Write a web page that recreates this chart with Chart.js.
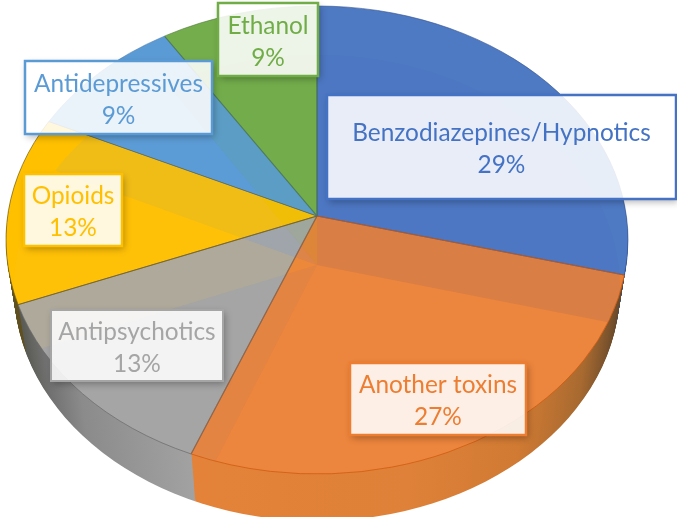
<!DOCTYPE html>
<html><head><meta charset="utf-8">
<style>html,body{margin:0;padding:0;background:#fff;overflow:hidden}canvas{display:block}</style>
<script src="https://cdn.jsdelivr.net/npm/chart.js@4"></script>
</head><body><canvas id="c" width="677" height="517"></canvas>
<script>
const categories = ["Benzodiazepines/Hypnotics","Another toxins","Antipsychotics","Opioids","Antidepressives","Ethanol"];
const values = [29,27,13,13,9,9];
const labelColors = ["#4472C4","#ED7D31","#A5A5A5","#FFC000","#5B9BD5","#70AD47"];
const topColors = ["#4E79C3","#EA8138","#A5A5A5","#FFC000","#5B9BD5","#74AD4C"];
const underColors = ["#4069BC","#FFB070","#A8A8A8","#FFD040","#6AA8E0","#70AD47"];
const edgeColors = ["rgba(50,80,140,.6)","rgba(205,90,15,.75)","rgba(105,105,105,.7)","rgba(120,95,20,.7)","rgba(60,110,160,.5)","rgba(80,120,60,.6)"];
const wallStops = [
  [[0,"#2F4D85"],[1,"#2F4D85"]],
  [[0,"#E8833A"],[0.65,"#DF8138"],[0.83,"#D07A33"],[0.93,"#A86A30"],[1,"#60452A"]],
  [[0,"#4F4F45"],[0.06,"#707070"],[0.12,"#8B8B8B"],[0.3,"#A2A2A2"],[1,"#A5A5A5"]],
  [[0,"#5E5020"],[1,"#7A6520"]],
  [[0,"#3F6E99"],[1,"#3F6E99"]],
  [[0,"#4E7A32"],[1,"#4E7A32"]]
];
const boxes = [[327,95,349,104,2.5],[350,363,176,72,2.5],[51,310,172,71,2],[24,174,98,72,2.5],[25,61,187,73,2.5],[218,3,100,73,2.5]];
const topFace = {x:317,y:216,rx:311,up:210,down:258};
const baseFace = {x:317,y:265,rx:303,up:210,down:256};

// perspective: a chart angle on the circle -> point on the tilted face, relative to the apex
function project(f, a){
  const t = a + Math.PI/2, p = (f.down-f.up)/(f.down+f.up);
  const A = f.up*(1+p), B = f.rx*Math.sqrt(1-p*p), q = 1+p*Math.cos(t);
  return [B*Math.sin(t)/q, -A*Math.cos(t)/q];
}
function ellipsePath(ctx,f){
  ctx.ellipse(f.x, f.y+(f.down-f.up)/2, f.rx, (f.up+f.down)/2, 0, 0, 2*Math.PI);
}
function drawFace(chart, f, style){
  const ctx = chart.ctx, els = chart.getDatasetMeta(0).data, K = 1.2;
  ctx.save();
  ctx.beginPath(); ellipsePath(ctx,f); ctx.clip();
  [[0,f.y],[f.y,chart.height+20-f.y]].forEach(([top,h],half)=>{
    const ry = half ? f.down : f.up;
    ctx.save();
    ctx.beginPath(); ctx.rect(0,top,chart.width,h); ctx.clip();
    els.forEach((el,i)=>{
      const R = el.outerRadius, s = style(i,el,R);
      const saved = {o:el.options,a:el.startAngle,b:el.endAngle,c:el.circumference};
      const ps = project(f,saved.a), pe = project(f,saved.b);
      let a = Math.atan2(ps[1]/ry,ps[0]/f.rx), b = Math.atan2(pe[1]/ry,pe[0]/f.rx);
      while(b<=a) b += 2*Math.PI;
      ctx.save();
      ctx.translate(f.x,f.y); ctx.scale(K*f.rx/R, K*ry/R); ctx.translate(-el.x,-el.y);
      el.options = Object.assign({},saved.o,s);
      el.startAngle = a; el.endAngle = b; el.circumference = b-a;
      el.draw(ctx);
      el.options = saved.o; el.startAngle = saved.a; el.endAngle = saved.b; el.circumference = saved.c;
      ctx.restore();
    });
    ctx.restore();
  });
  ctx.restore();
}
function drawRim(chart,f){
  const ctx = chart.ctx, cy = (f.down-f.up)/2, ry = (f.up+f.down)/2;
  chart.getDatasetMeta(0).data.forEach((el,i)=>{
    const ps = project(f,el.startAngle), pe = project(f,el.endAngle);
    const a = Math.atan2((ps[1]-cy)/ry,ps[0]/f.rx), b = Math.atan2((pe[1]-cy)/ry,pe[0]/f.rx);
    ctx.beginPath();
    ctx.ellipse(f.x,f.y+cy,f.rx,ry,0,a,b);
    ctx.strokeStyle = edgeColors[i]; ctx.lineWidth = 1; ctx.stroke();
  });
}
const threeD = {
  id:"threeD",
  beforeDatasetsDraw(chart){
    const ctx = chart.ctx, steps = baseFace.y-topFace.y;
    for(let d=steps;d>=1;d--){
      const k=d/steps, f={};
      for(const p of ["x","y","rx","up","down"]) f[p]=topFace[p]+(baseFace[p]-topFace[p])*k;
      drawFace(chart,f,(i,el,R)=>{
        const g=ctx.createLinearGradient(el.x-R/1.2,0,el.x+R/1.2,0);
        wallStops[i].forEach(([t,c])=>g.addColorStop(t,c));
        return {backgroundColor:g,borderWidth:0};
      });
    }
    drawFace(chart,topFace,i=>({backgroundColor:topColors[i],borderWidth:0}));
    ctx.save();
    ctx.beginPath(); ellipsePath(ctx,topFace); ctx.clip();
    ctx.globalAlpha=0.1;
    drawFace(chart,baseFace,i=>({backgroundColor:underColors[i],borderWidth:0}));
    ctx.restore();
    drawFace(chart,topFace,i=>({backgroundColor:"rgba(0,0,0,0)",borderColor:edgeColors[i],borderWidth:0.8}));
    drawRim(chart,topFace);
    return false;
  },
  afterDraw(chart){
    const ctx = chart.ctx;
    categories.forEach((name,i)=>{
      const [x,y,w,h,lw]=boxes[i];
      ctx.save();
      ctx.beginPath(); ctx.rect(0,0,chart.width,chart.height); ctx.rect(x,y,w,h); ctx.clip("evenodd");
      ctx.shadowColor="rgba(0,0,0,.3)"; ctx.shadowBlur=7; ctx.shadowOffsetX=2; ctx.shadowOffsetY=3;
      ctx.fillStyle="#fff"; ctx.fillRect(x,y,w,h);
      ctx.restore();
      ctx.fillStyle="rgba(255,255,255,.87)"; ctx.fillRect(x,y,w,h);
      ctx.strokeStyle=labelColors[i]; ctx.lineWidth=lw; ctx.strokeRect(x,y,w,h);
      ctx.fillStyle=labelColors[i]; ctx.textAlign="center"; ctx.textBaseline="alphabetic";
      ctx.font='24.4px Lato';
      const cx=x+w/2, cy=y+h/2;
      ctx.fillText(name,cx,cy-6);
      ctx.fillText(values[i]+"%",cx,cy+26);
    });
  }
};
new Chart(document.getElementById("c"),{
  type:"pie",
  data:{labels:categories,datasets:[{data:values,backgroundColor:topColors,borderWidth:0}]},
  options:{responsive:false,animation:false,layout:{padding:0},
    plugins:{legend:{display:false},tooltip:{enabled:false}}},
  plugins:[threeD]
});
</script></body></html>
